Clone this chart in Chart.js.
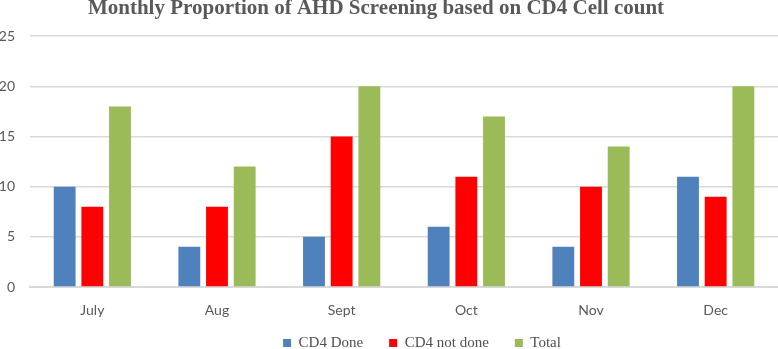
<!DOCTYPE html>
<html>
<head>
<meta charset="utf-8">
<script src="https://cdn.jsdelivr.net/npm/chart.js@4"></script>
<style>
  html, body { margin: 0; padding: 0; background: #fff; }
  #chart { display: block; }
</style>
</head>
<body>
<canvas id="chart" width="778" height="349"></canvas>
<script>
const months = ['July', 'Aug', 'Sept', 'Oct', 'Nov', 'Dec'];
const cd4Done = [10, 4, 5, 6, 4, 11];
const cd4NotDone = [8, 8, 15, 11, 10, 9];
const total = [18, 12, 20, 17, 14, 20];
const yTicks = [0, 5, 10, 15, 20, 25];

// nudge title / legend to where the original figure has them
const nudge = {
  id: 'nudge',
  afterLayout(chart) {
    const t = chart.titleBlock;
    t.left -= 13; t.right -= 13;
    t.top -= 4; t.bottom -= 4;
    const l = chart.legend;
    l.left += 33; l.right += 33;
    l.top = 309.5; l.bottom = chart.height;
  }
};

const ctx = document.getElementById('chart').getContext('2d');
new Chart(ctx, {
  type: 'bar',
  data: {
    labels: months,
    datasets: [
      { label: 'CD4 Done', backgroundColor: '#4f81bd', data: cd4Done },
      { label: 'CD4 not done', backgroundColor: '#ff0000', data: cd4NotDone },
      { label: 'Total', backgroundColor: '#9bbb59', data: total }
    ]
  },
  plugins: [nudge],
  options: {
    responsive: false,
    animation: false,
    categoryPercentage: 0.666,
    barPercentage: 0.79,
    layout: { padding: 0 },
    plugins: {
      title: {
        display: true,
        text: 'Monthly Proportion of AHD Screening based on CD4 Cell count',
        color: '#595959',
        font: { family: '"Liberation Serif", serif', size: 21, weight: 'bold' },
        padding: { top: 0, bottom: 11 }
      },
      legend: {
        position: 'bottom',
        maxHeight: 30,
        labels: {
          color: '#505050',
          boxWidth: 8,
          boxHeight: 8,
          padding: 26,
          font: { family: '"Liberation Serif", serif', size: 15 }
        }
      },
      tooltip: { enabled: false }
    },
    scales: {
      x: {
        afterFit: axis => { axis.height = 32; },
        grid: { display: false },
        border: { color: '#d9d9d9', width: 2 },
        ticks: {
          color: '#595959',
          padding: 7,
          font: { family: 'Lato, sans-serif', size: 14 }
        }
      },
      y: {
        min: 0,
        max: 25,
        afterFit: axis => { axis.width = 30; },
        afterBuildTicks: axis => { axis.ticks = yTicks.map(v => ({ value: v })); },
        grid: { color: '#d9d9d9', lineWidth: 1.5, drawTicks: false },
        border: { display: false },
        ticks: {
          color: '#595959',
          padding: 15,
          font: { family: 'Lato, sans-serif', size: 14 }
        }
      }
    }
  }
});
</script>
</body>
</html>
